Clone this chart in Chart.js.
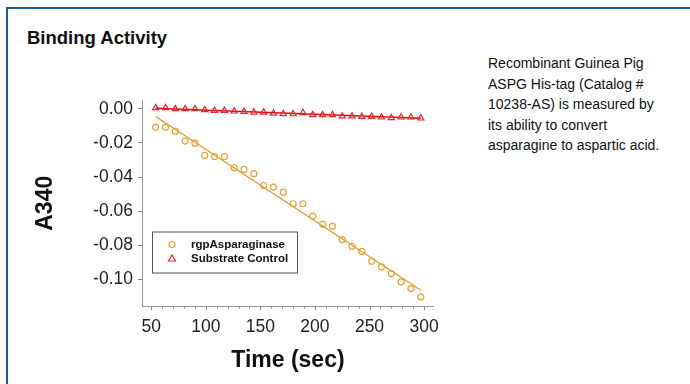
<!DOCTYPE html>
<html>
<head>
<meta charset="utf-8">
<script src="https://cdn.jsdelivr.net/npm/chart.js@4"></script>
<style>
    body { margin: 0; width: 690px; height: 384px; background: #fff; font-family: "Liberation Sans", Arial, sans-serif; overflow: hidden; position: relative; }
    .frame { position: absolute; left: 6px; top: 7px; right: -10px; bottom: -10px; border-left: 2px solid #1d5a94; border-top: 2px solid #1d5a94; }
    .title { position: absolute; left: 27px; top: 27px; font-size: 18.5px; font-weight: bold; color: #111; }
    .note { position: absolute; left: 488px; top: 53px; width: 200px; font-size: 14px; line-height: 20.5px; color: #111; }
    #wrap { position: absolute; left: 20px; top: 85px; width: 430px; height: 299px; }
</style>
</head>
<body>
<div class="frame"></div>
<div class="title">Binding Activity</div>
<div class="note">Recombinant Guinea Pig<br>ASPG His-tag (Catalog #<br>10238-AS) is measured by<br>its ability to convert<br>asparagine to aspartic acid.</div>
<div id="wrap"><canvas id="chart"></canvas></div>
<script>
// time points (sec)
const timePoints = [54, 63, 72, 81, 90, 99, 108, 117, 126, 135, 144, 153, 162, 171, 180, 189, 198, 207, 216, 225, 234, 243, 252, 261, 270, 279, 288, 297];
const enzymeA340 = [-0.0108, -0.0108, -0.0131, -0.0189, -0.0201, -0.0273, -0.0279, -0.0279, -0.0345, -0.0355, -0.0380, -0.0449, -0.0458, -0.0488,
    -0.0556, -0.0556, -0.0628, -0.0675, -0.0688, -0.0766, -0.0805, -0.0835, -0.0893, -0.0926, -0.0965, -0.1014, -0.1053, -0.1102];
const controlA340 = [0.0006, 0.0006, 0.0000, 0.0000, 0.0000, -0.0006, -0.0010, -0.0010, -0.0014, -0.0016, -0.0020, -0.0020, -0.0026, -0.0029,
    -0.0030, -0.0023, -0.0035, -0.0035, -0.0035, -0.0043, -0.0043, -0.0045, -0.0045, -0.0049, -0.0053, -0.0049, -0.0049, -0.0055];
// linear fit end points
const fitTimes = [54, 297];
const enzymeFit = [-0.0045, -0.1063];
const controlFit = [0.0004, -0.0055];
const yTicks = [0.00, -0.02, -0.04, -0.06, -0.08, -0.10];
const xTicks = [50, 100, 150, 200, 250, 300];
const seriesNames = ['rgpAsparaginase', 'Substrate Control'];

const orange = '#e8a035';
const red = '#e3262a';
const fontFam = '"Liberation Sans", Arial, sans-serif';

const pts = (xs, ys) => xs.map((x, i) => ({ x: x, y: ys[i] }));

// legend box drawn inside the plot area
const boxLegend = {
    id: 'boxLegend',
    afterDraw(chart) {
        const ctx = chart.ctx; const ca = chart.chartArea;
        const bx = ca.left + 10, by = ca.top + 131, bw = 145, bh = 41;
        ctx.save();
        ctx.fillStyle = '#fff'; ctx.fillRect(bx, by, bw, bh);
        ctx.strokeStyle = '#555'; ctx.lineWidth = 1;
        ctx.strokeRect(bx + 0.5, by + 0.5, bw, bh);
        ctx.font = 'bold 11.5px ' + fontFam;
        ctx.textBaseline = 'middle';
        [0, 1].forEach(i => {
            const ds = chart.data.datasets[i];
            const y = by + 13 + i * 14;
            ctx.strokeStyle = ds.borderColor; ctx.lineWidth = 1.2;
            ctx.beginPath();
            if (ds.pointStyle === 'circle') ctx.arc(bx + 20, y, 3, 0, Math.PI * 2);
            else { ctx.moveTo(bx + 20, y - 3.5); ctx.lineTo(bx + 23.5, y + 2.5); ctx.lineTo(bx + 16.5, y + 2.5); ctx.closePath(); }
            ctx.stroke();
            ctx.fillStyle = '#111';
            ctx.fillText(seriesNames[i], bx + 39, y);
        });
        ctx.restore();
    }
};

// short minor ticks every 10 sec on the time axis
const minorTicks = {
    id: 'minorTicks',
    afterDraw(chart) {
        const ctx = chart.ctx; const xs = chart.scales.x; const ca = chart.chartArea;
        ctx.save(); ctx.strokeStyle = '#888'; ctx.lineWidth = 1;
        for (let t = 50; t <= 300; t += 10) {
            const px = Math.round(xs.getPixelForValue(t)) + 0.5;
            ctx.beginPath(); ctx.moveTo(px, ca.bottom); ctx.lineTo(px, ca.bottom + (t % 50 === 0 ? 4 : 2.5)); ctx.stroke();
        }
        ctx.restore();
    }
};

new Chart(document.getElementById('chart'), {
    type: 'scatter',
    data: {
        datasets: [
            { label: seriesNames[0], data: pts(timePoints, enzymeA340), pointStyle: 'circle', pointRadius: 3, borderColor: orange, backgroundColor: 'transparent', pointBorderWidth: 1.2, showLine: false },
            { label: seriesNames[1], data: pts(timePoints, controlA340), pointStyle: 'triangle', pointRadius: 3.5, borderColor: red, backgroundColor: 'transparent', pointBorderWidth: 1.2, showLine: false },
            { data: pts(fitTimes, enzymeFit), showLine: true, borderColor: '#e49a24', borderWidth: 1.3, pointRadius: 0 },
            { data: pts(fitTimes, controlFit), showLine: true, borderColor: '#e01010', borderWidth: 1.6, pointRadius: 0 }
        ]
    },
    options: {
        responsive: true, maintainAspectRatio: false, animation: false,
        layout: { padding: { top: 5, right: 10, left: 0, bottom: 0 } },
        plugins: { legend: { display: false }, tooltip: { enabled: false } },
        scales: {
            x: {
                type: 'linear', min: 41.5, max: 309,
                afterBuildTicks: s => { s.ticks = xTicks.map(v => ({ value: v })); },
                afterFit: s => { s.height = 78; },
                border: { color: '#999', width: 1 },
                grid: { drawOnChartArea: false, drawTicks: false },
                ticks: { padding: 11, color: '#222', font: { size: 17.5, family: fontFam } },
                title: { display: true, text: 'Time (sec)', color: '#111', padding: { top: 0, bottom: 10 }, font: { size: 23, weight: 'bold', family: fontFam } }
            },
            y: {
                min: -0.1155, max: 0.0049,
                afterBuildTicks: s => { s.ticks = yTicks.map(v => ({ value: v })); },
                afterFit: s => { s.width = 122; },
                border: { color: '#999', width: 1 },
                grid: { drawOnChartArea: false, tickLength: 4, tickColor: '#888' },
                ticks: { padding: 5, color: '#222', callback: v => v.toFixed(2).replace('-0.00', '0.00'), font: { size: 17.5, family: fontFam } },
                title: { display: true, text: 'A340', color: '#111', padding: { top: 12, bottom: 0 }, font: { size: 23, weight: 'bold', family: fontFam } }
            }
        }
    },
    plugins: [minorTicks, boxLegend]
});
</script>
</body>
</html>
